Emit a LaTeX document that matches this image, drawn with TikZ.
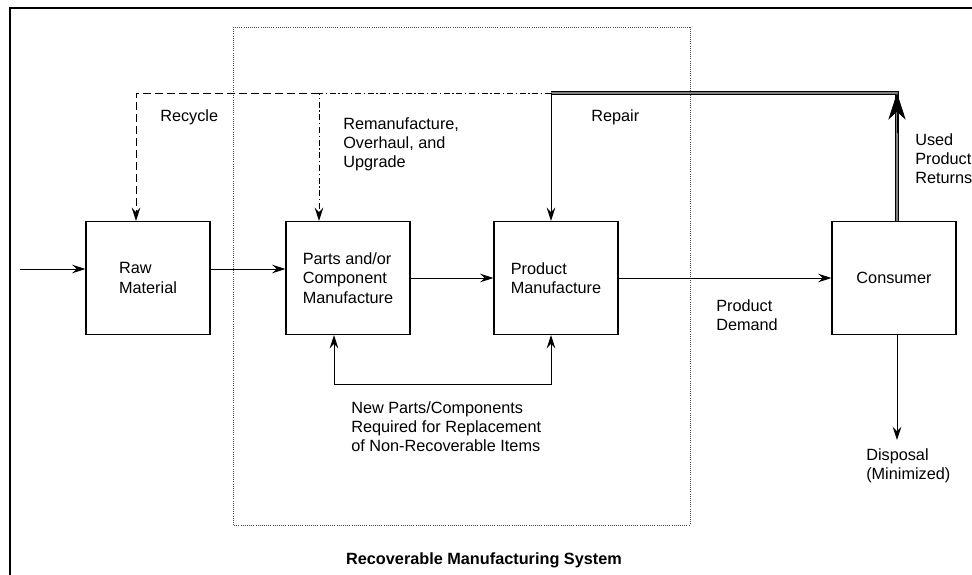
\documentclass[tikz,border=0pt]{standalone}
\usepackage{fontspec}
\setmainfont{Liberation Sans}
\usetikzlibrary{arrows.meta,calc}
\tikzset{
  blk/.style={draw, line width=.9pt, minimum width=93pt, minimum height=84.75pt, align=left, inner sep=0pt},
  lbl/.style={align=left, inner sep=0pt, anchor=north west},
  head/.tip={Stealth[length=10pt,width=6.5pt,inset=3.5pt]},
  flow/.style={line width=.7pt, -head},
  dashdot/.style={dash pattern=on 4.5pt off 2pt on 1pt off 2pt},
}
\begin{document}
\begin{tikzpicture}[x=.75pt,y=-.75pt,font=\fontsize{12.2}{14.6}\selectfont]
	\useasboundingbox (0,0) rectangle (972,575);
	% frame and system boundary
	\draw[line width=2pt] (10,575) -- (10,8) -- (972,8);
	\draw[densely dotted, line width=.6pt, black!70] (233,27) rectangle (690,525);
	\node[anchor=north, inner sep=0pt, font=\fontsize{12.2}{14.6}\selectfont\bfseries] (sys) at (484,552) {Recoverable Manufacturing System};

	\node[blk] (raw) at (148,278) {Raw\\Material};
	\node[blk] (parts) at (348,278) {Parts and/or\\Component\\Manufacture};
	\node[blk] (prod) at (556,278) {Product\\Manufacture};
	\node[blk] (cons) at (894,278) {Consumer};

	\coordinate (in) at (20,269);
	\coordinate (rec) at (136,93);
	\coordinate (reman) at (319,93);
	\coordinate (rep) at (551,93);
	\coordinate (ret) at (897,93);
	\coordinate (low) at (334,384);
	\coordinate (out) at (897,440);

	% forward flow
	\draw[flow] (in) -- (in -| raw.west);
	\draw[flow] (raw.east |- in) -- (in -| parts.west);
	\draw[flow] (parts.east) -- (prod.west);
	\draw[flow] (prod.east) -- (cons.west);
	\draw[flow] (cons.south -| out) -- (out);

	% returns
	\draw[double=black!50, double distance=1.5pt, line width=.6pt] (cons.north -| ret) -- (ret) -- (rep);
	\draw[line width=.6pt, -{Stealth[length=20pt,width=13pt,inset=6pt]}] ($(ret)+(0,40)$) -- (ret);
	\draw[flow] (rep) -- (rep |- prod.north);
	\draw[flow, dashdot] (rep) -- (reman) -- (reman |- parts.north);
	\draw[flow, dash pattern=on 6pt off 3pt] (reman) -- (rec) -- (rec |- raw.north);

	% replacement parts
	\draw[flow, head-head] (low |- parts.south) -- (low) -- (low -| rep) -- (rep |- prod.south);

	\node[lbl] (lrec) at (160,109) {Recycle};
	\node[lbl] (lreman) at (343,117) {Remanufacture,\\Overhaul, and\\Upgrade};
	\node[lbl] (lrep) at (591,109) {Repair};
	\node[lbl] (lret) at (915,133) {Used\\Product\\Returns};
	\node[lbl] (ldem) at (716,299) {Product\\Demand};
	\node[lbl] (ldisp) at (866,448) {Disposal\\(Minimized)};
	\node[lbl] (lnew) at (351,401) {New Parts/Components\\Required for Replacement\\of Non-Recoverable Items};
\end{tikzpicture}
\end{document}
